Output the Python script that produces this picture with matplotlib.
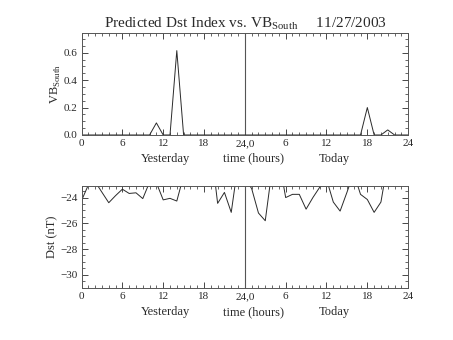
import matplotlib
matplotlib.use('Agg')
import matplotlib.pyplot as plt
from matplotlib.ticker import MultipleLocator

plt.rcParams['font.family'] = ['Liberation Serif', 'DejaVu Serif']
plt.rcParams['mathtext.fontset'] = 'custom'
plt.rcParams['mathtext.rm'] = 'Liberation Serif'

# hours since start of yesterday (0..48)
hours = list(range(49))

vb_south = [0, 0, 0, 0, 0, 0, 0, 0, 0, 0,
            0, 0.088, 0, 0, 0.615, 0, 0, 0, 0, 0,
            0, 0, 0, 0, 0, 0, 0, 0, 0, 0,
            0, 0, 0, 0, 0, 0, 0, 0, 0, 0,
            0, 0, 0.2, 0, 0, 0.037, 0, 0, 0]

dst = [-24.23, -23.02, -22.77, -23.59, -24.4, -23.85, -23.35, -23.68, -23.63, -24.08,
       -22.8, -22.85, -24.18, -24.06, -24.27, -22.3, -22.3, -22.0, -22.2, -20.0,
       -24.45, -23.6, -25.15, -21.4, -22.5, -23.3, -25.2, -25.8, -21.8, -21.0,
       -24.0, -23.75, -23.75, -24.9, -24.0, -23.2, -22.57, -24.35, -25.05, -23.6,
       -22.1, -23.75, -24.15, -25.15, -24.35, -21.25, -22.0, -22.0, -22.0]

tick_pos = [0, 6, 12, 18, 24, 30, 36, 42, 48]
tick_labels = ['0', '6', '12', '18', '24,0', '6', '12', '18', '24']

ink = '#2a2a2a'
fig = plt.figure(figsize=(4.53, 3.40), dpi=100)
ax1 = fig.add_axes([0.180, 0.603, 0.721, 0.2985])
ax2 = fig.add_axes([0.180, 0.152, 0.721, 0.301])

for ax in (ax1, ax2):
    ax.set_xlim(0, 48)
    ax.set_xticks(tick_pos)
    ax.set_xticklabels(tick_labels)
    ax.xaxis.set_minor_locator(MultipleLocator(1))
    ax.tick_params(which='both', direction='in', top=True, right=True,
                   colors=ink, labelsize=8, pad=3)
    ax.tick_params(which='major', length=4, width=0.6)
    ax.tick_params(which='minor', length=2, width=0.5)
    for s in ax.spines.values():
        s.set_color('#555555')
        s.set_linewidth(0.7)
    ax.axvline(24, color='#555555', lw=0.8)
    xt = ax.get_xaxis_transform()
    ax.text(12.3, -0.175, 'Yesterday', transform=xt,
            ha='center', va='top', fontsize=9, color=ink)
    ax.text(25.2, -0.175, 'time (hours)', transform=xt,
            ha='center', va='top', fontsize=9, color=ink)
    ax.text(37.1, -0.175, 'Today', transform=xt,
            ha='center', va='top', fontsize=9, color=ink)

ax1.plot(hours, vb_south, color=ink, lw=0.7)
ax1.set_ylim(0, 0.74)
ax1.yaxis.set_minor_locator(MultipleLocator(0.05))
ax1.set_yticks([0, 0.2, 0.4, 0.6])
ax1.set_yticklabels(['0.0', '0.2', '0.4', '0.6'])
ax1.set_ylabel(r'VB$_{\rm South}$', fontsize=9, color=ink, labelpad=0)

ax2.plot(hours, dst, color=ink, lw=0.7)
ax2.set_ylim(-31.05, -23.1)
ax2.yaxis.set_major_locator(MultipleLocator(2))
ax2.yaxis.set_minor_locator(MultipleLocator(0.5))
ax2.set_ylabel('Dst (nT)', fontsize=9, color=ink, labelpad=1)

fig.text(245 / 453, 1 - 24 / 340,
         r'Predicted Dst Index vs. VB$_{\rm South}$     11/27/2003',
         ha='center', va='center', fontsize=11, color=ink)

fig.savefig('out.png', dpi=100)
